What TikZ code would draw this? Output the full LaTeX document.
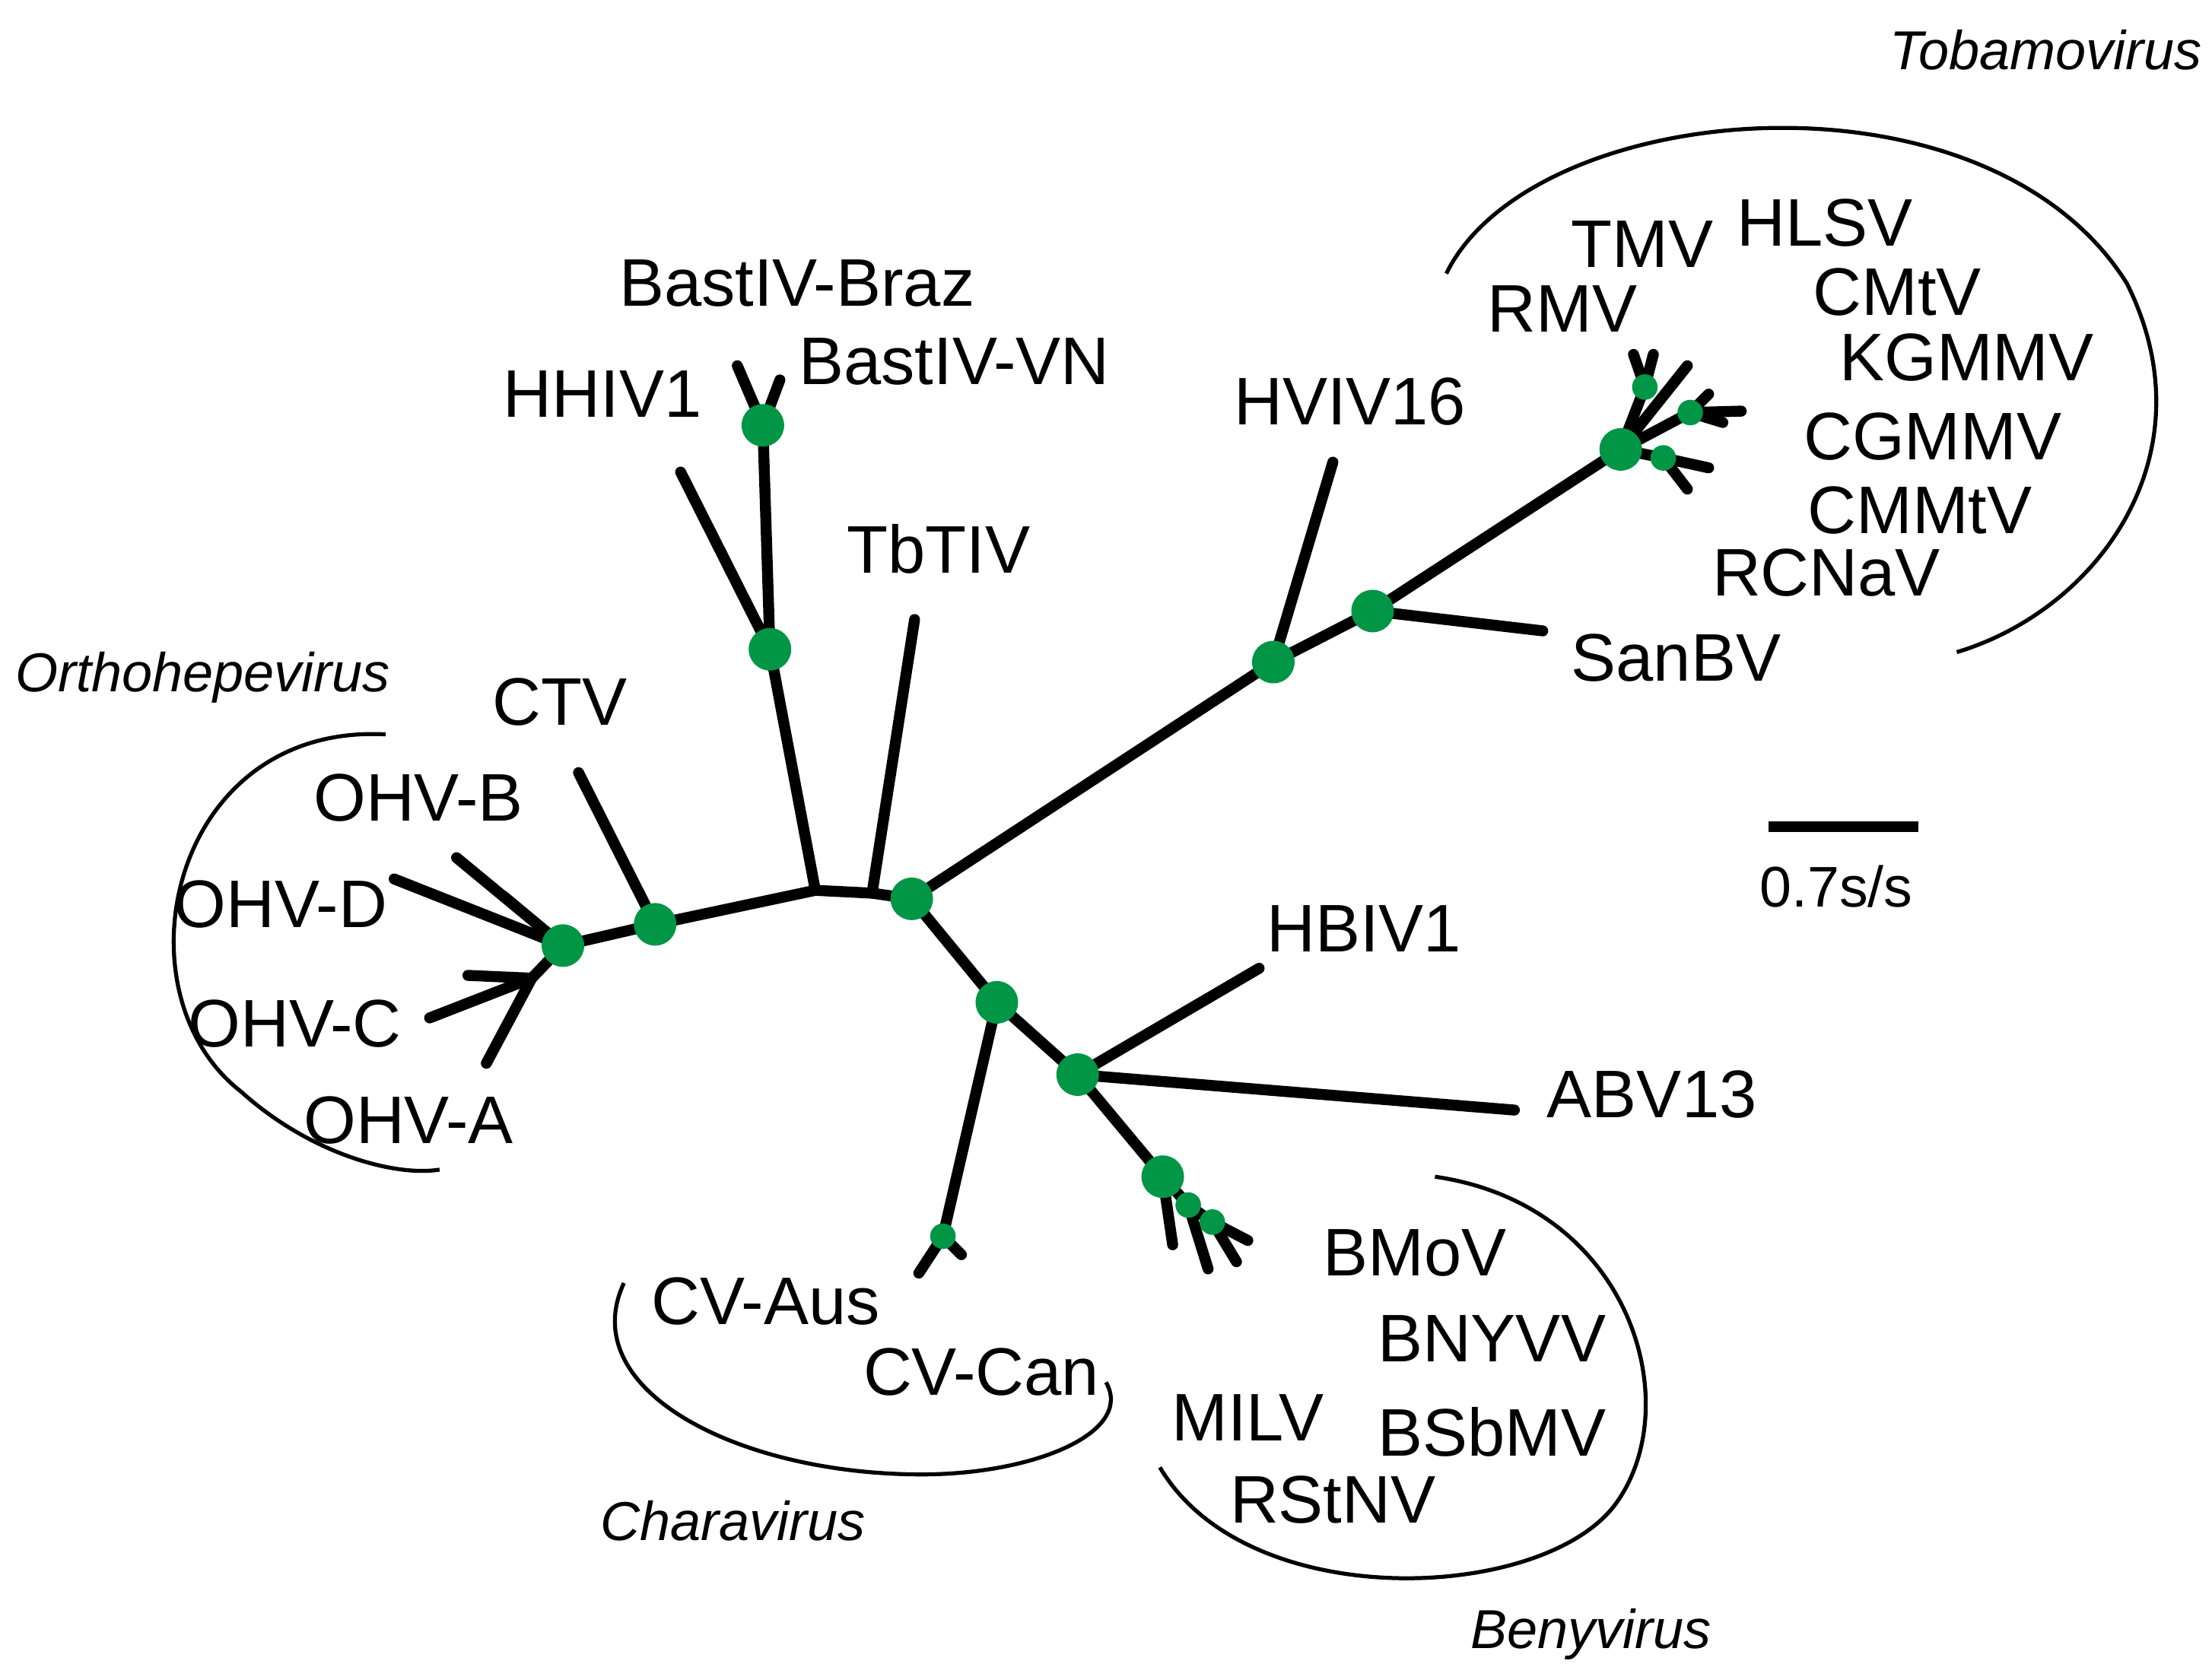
\documentclass[tikz,border=0pt]{standalone}
\usepackage{fontspec}
\setmainfont{Liberation Sans}
\definecolor{nodegreen}{RGB}{0,150,70}
\tikzset{
  br/.style={line width=2.2pt, line cap=round},
  bigdot/.style={circle, fill=nodegreen, inner sep=0pt, minimum size=0.3cm},
  smalldot/.style={circle, fill=nodegreen, inner sep=0pt, minimum size=0.18cm},
  lab/.style={font=\fontsize{13.5}{15}\selectfont},
  genus/.style={font=\fontsize{11}{13}\selectfont\itshape},
  clade/.style={line width=0.8pt}
}
\begin{document}
\begin{tikzpicture}[x=0.01cm, y=-0.01cm]
\useasboundingbox (0,0) rectangle (1560,1185);
% internal points
\node (r1) at (575,628) {};
\node (r2) at (615,630) {};
\node (n1) at (643,634) {};
\node (n2) at (898,467) {};
\node (n3) at (968,431) {};
\node (n4) at (1143,317) {};
\node (t1) at (1160,273) {};
\node (t2) at (1192,291) {};
\node (t3) at (1173,323) {};
\node (h1) at (543,458) {};
\node (h2) at (538,300) {};
\node (c1) at (462,652) {};
\node (o1) at (397,667) {};
\node (o2) at (375,690) {};
\node (b1) at (703,707) {};
\node (b2) at (760,758) {};
\node (b3) at (820,830) {};
\node (b4) at (838,850) {};
\node (b5) at (855,862) {};
\node (v1) at (665,872) {};
% tips
\node (tHV) at (940,326) {};
\node (tSan) at (1088,445) {};
\node (tTb) at (645,437) {};
\node (tHH) at (480,333) {};
\node (tBa) at (520,258) {};
\node (tBb) at (550,268) {};
\node (tCT) at (408,545) {};
\node (tHB) at (888,683) {};
\node (tAB) at (1068,783) {};
% branches
\draw [br] (c1.center) -- (r1.center) -- (r2.center) -- (n1.center) -- (n2.center) -- (n3.center) -- (n4.center);
\draw [br] (n2.center) -- (tHV.center);
\draw [br] (n3.center) -- (tSan.center);
\draw [br] (r2.center) -- (tTb.center);
\draw [br] (r1.center) -- (h1.center) -- (h2.center) -- (tBa.center);
\draw [br] (h2.center) -- (tBb.center);
\draw [br] (h1.center) -- (tHH.center);
\draw [br] (c1.center) -- (tCT.center);
\draw [br] (c1.center) -- (o1.center) -- (o2.center);
\draw [br] (o1.center) -- (322,605);
\draw [br] (o1.center) -- (355,632);
\draw [br] (o1.center) -- (278,620);
\draw [br] (o2.center) -- (330,688);
\draw [br] (o2.center) -- (303,718);
\draw [br] (o2.center) -- (343,750);
\draw [br] (n1.center) -- (b1.center) -- (b2.center) -- (b3.center) -- (b4.center) -- (b5.center);
\draw [br] (b2.center) -- (tHB.center);
\draw [br] (b2.center) -- (tAB.center);
\draw [br] (b3.center) -- (827,878);
\draw [br] (b4.center) -- (852,895);
\draw [br] (b5.center) -- (880,875);
\draw [br] (b5.center) -- (872,890);
\draw [br] (b1.center) -- (v1.center) -- (648,898);
\draw [br] (v1.center) -- (678,885);
\draw [br] (n4.center) -- (t1.center) -- (1152,250);
\draw [br] (t1.center) -- (1166,250);
\draw [br] (n4.center) -- (1190,258);
\draw [br] (n4.center) -- (t2.center) -- (1228,290);
\draw [br] (t2.center) -- (1215,298);
\draw [br] (t2.center) -- (1205,278);
\draw [br] (n4.center) -- (t3.center) -- (1205,330);
\draw [br] (t3.center) -- (1190,345);
% dots
\foreach \n in {n1,n2,n3,n4,h1,h2,c1,o1,b1,b2,b3}
  \node [bigdot] at (\n) {};
\foreach \n in {t1,t2,t3,b4,b5,v1}
  \node [smalldot] at (\n) {};
% labels
\node [lab] (l1) at (562,200) {BastIV-Braz};
\node [lab] (l2) at (673,255) {BastIV-VN};
\node [lab] (l3) at (425,278) {HHIV1};
\node [lab] (l4) at (662,387) {TbTIV};
\node [lab] (l5) at (952,283) {HVIV16};
\node [lab] (l6) at (1158,172) {TMV};
\node [lab] (l7) at (1287,157) {HLSV};
\node [lab] (l8) at (1102,218) {RMV};
\node [lab] (l9) at (1338,206) {CMtV};
\node [lab] (l10) at (1387,252) {KGMMV};
\node [lab] (l11) at (1363,308) {CGMMV};
\node [lab] (l12) at (1354,360) {CMMtV};
\node [lab] (l13) at (1288,404) {RCNaV};
\node [lab] (l14) at (1182,464) {SanBV};
\node [lab] (l15) at (395,495) {CTV};
\node [lab] (l16) at (295,563) {OHV-B};
\node [lab] (l17) at (198,638) {OHV-D};
\node [lab] (l18) at (208,722) {OHV-C};
\node [lab] (l19) at (288,790) {OHV-A};
\node [lab] (l20) at (962,655) {HBIV1};
\node [lab] (l21) at (1165,772) {ABV13};
\node [lab] (l22) at (540,918) {CV-Aus};
\node [lab] (l23) at (692,968) {CV-Can};
\node [lab] (l24) at (998,884) {BMoV};
\node [lab] (l25) at (1052,944) {BNYVV};
\node [lab] (l26) at (1052,1010) {BSbMV};
\node [lab] (l27) at (880,1000) {MILV};
\node [lab] (l28) at (940,1058) {RStNV};
\node [genus] (g1) at (1443,35) {Tobamovirus};
\node [genus] (g2) at (143,478) {Orthohepevirus};
\node [genus] (g3) at (517,1073) {Charavirus};
\node [genus] (g4) at (1122,1153) {Benyvirus};
% clade arcs
\draw [clade] (1020,193) .. controls (1080,70) and (1400,40) .. (1500,200) .. controls (1560,320) and (1480,430) .. (1380,460);
\draw [clade] (272,518) .. controls (120,510) and (80,700) .. (170,770) .. controls (220,815) and (280,830) .. (310,825);
\draw [clade] (440,905) .. controls (405,980) and (520,1040) .. (650,1040) .. controls (730,1040) and (800,1010) .. (780,975);
\draw [clade] (1012,830) .. controls (1150,850) and (1190,990) .. (1140,1060) .. controls (1090,1130) and (880,1140) .. (818,1035);
% scale bar
\node (s1) at (1247,583) {};
\node (s2) at (1353,583) {};
\draw [line width=2.2pt] (s1.center) -- (s2.center);
\node [lab, font=\fontsize{11.5}{13}\selectfont] (sl) at (1295,625) {0.7s/s};
\end{tikzpicture}
\end{document}
